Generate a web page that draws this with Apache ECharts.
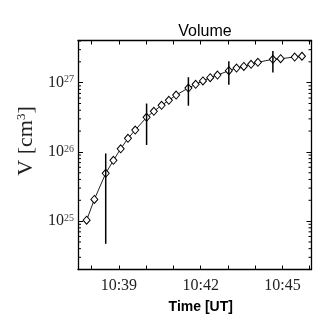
<!DOCTYPE html>
<html>
<head>
<meta charset="utf-8">
<script src="https://cdn.jsdelivr.net/npm/echarts@6/dist/echarts.min.js"></script>
<style>
  html, body { margin: 0; padding: 0; background: #ffffff; }
  #chart { width: 325px; height: 325px; }
</style>
</head>
<body>
<div id="chart"></div>
<script>
// Observation times (UT) and the estimated volume at each time, in cm^3
const times = [
  '10:37:49', '10:38:06', '10:38:31', '10:38:48', '10:39:04', '10:39:20',
  '10:39:36', '10:40:01', '10:40:17', '10:40:34', '10:40:50', '10:41:06',
  '10:41:33', '10:41:49', '10:42:05', '10:42:21', '10:42:37', '10:43:02',
  '10:43:19', '10:43:35', '10:43:51', '10:44:06', '10:44:39', '10:44:56',
  '10:45:27', '10:45:43'
];
const volume = [
  1.03e25, 2.06e25, 4.9e25, 7.55e25, 1.11e26, 1.57e26,
  2.07e26, 3.16e26, 3.86e26, 4.71e26, 5.56e26, 6.63e26,
  8.38e26, 9.47e26, 1.06e27, 1.18e27, 1.29e27, 1.49e27,
  1.63e27, 1.72e27, 1.84e27, 1.97e27, 2.18e27, 2.22e27,
  2.35e27, 2.41e27
];

// Uncertainty ranges shown at selected times
const errTimes = ['10:38:31', '10:40:01', '10:41:33', '10:43:02', '10:44:39'];
const errLow   = [4.7e24, 1.26e26, 4.65e26, 9.35e26, 1.40e27];
const errHigh  = [9.5e25, 5.0e26, 1.20e27, 2.04e27, 2.87e27];

// Axis ranges and labelled ticks
const timeRange = ['10:37:30', '10:46:04'];
const volumeRange = [2.0e24, 4.07e27];
const labelledMinutes = ['10:39', '10:42', '10:45'];
const minorMultipliers = [2, 3, 4, 5, 6, 7, 8, 9];
const decades = [24, 25, 26, 27];

const toMs = (t) => {
  const p = t.split(':').map(Number);
  return Date.UTC(2000, 0, 1, p[0], p[1], p[2] || 0);
};
const pad = (n) => (n < 10 ? '0' : '') + n;
const labelSet = new Set(labelledMinutes);

const xMin = toMs(timeRange[0]);
const xMax = toMs(timeRange[1]);

const minorTicks = [];
decades.forEach((d) => minorMultipliers.forEach((m) => {
  const v = m * Math.pow(10, d);
  if (v > volumeRange[0] && v < volumeRange[1]) minorTicks.push(v);
}));

const serif = '"Liberation Serif", "DejaVu Serif", serif';
const sans = '"Liberation Sans", Arial, sans-serif';

const timeLabel = (value) => {
  const d = new Date(value);
  if (d.getUTCSeconds() !== 0 || d.getUTCMilliseconds() !== 0) return '';
  const s = d.getUTCHours() + ':' + pad(d.getUTCMinutes());
  return labelSet.has(s) ? s : '';
};
const powLabel = (value) => {
  const e = Math.log10(value);
  const r = Math.round(e);
  if (Math.abs(e - r) > 1e-6) return '';
  return '{b|10}{s|' + r + '}';
};

const chart = echarts.init(document.getElementById('chart'), null, { renderer: 'canvas' });

const baseX = {
  type: 'time',
  min: xMin,
  max: xMax,
  minInterval: 60000,
  maxInterval: 60000,
  axisLine: { show: true, onZero: false, lineStyle: { color: '#000', width: 1.3 } },
  axisTick: { show: true, inside: true, length: 4, lineStyle: { color: '#000', width: 1 } },
  splitLine: { show: false },
  minorTick: { show: false }
};
const baseY = {
  type: 'log',
  logBase: 10,
  min: volumeRange[0],
  max: volumeRange[1],
  splitNumber: 3,
  axisLine: { show: true, onZero: false, lineStyle: { color: '#000', width: 1.3 } },
  axisTick: { show: true, inside: true, length: 5, lineStyle: { color: '#000', width: 1 } },
  splitLine: { show: false }
};

chart.setOption({
  useUTC: true,
  animation: false,
  backgroundColor: '#ffffff',
  title: {
    text: 'Volume',
    left: 200,
    top: 19,
    textAlign: 'center',
    textStyle: { fontFamily: sans, fontSize: 16, fontWeight: 'normal', color: '#000' }
  },
  grid: { left: 78, right: 13.5, top: 40.5, bottom: 55.5, containLabel: false },
  xAxis: [
    Object.assign({}, baseX, {
      position: 'bottom',
      name: 'Time [UT]',
      nameLocation: 'middle',
      nameGap: 31,
      nameTextStyle: { fontFamily: sans, fontSize: 14, fontWeight: 'bold', color: '#000',
                       padding: [0, 0, 0, 12] },
      axisLabel: {
        show: true, margin: 8, formatter: timeLabel,
        fontFamily: serif, fontSize: 16, color: '#222',
        showMinLabel: false, showMaxLabel: false, hideOverlap: false
      }
    }),
    Object.assign({}, baseX, { position: 'top', axisLabel: { show: false } })
  ],
  yAxis: [
    Object.assign({}, baseY, {
      position: 'left',
      name: '{n|V [cm}{s|3}{n|]}',
      nameLocation: 'middle',
      nameGap: 38,
      nameRotate: 90,
      nameTextStyle: {
        padding: [0, 0, 0, 28],
        rich: {
          n: { fontFamily: serif, fontSize: 22, color: '#222' },
          s: { fontFamily: serif, fontSize: 13, color: '#222', verticalAlign: 'top' }
        }
      },
      axisLabel: {
        show: true, margin: 4, formatter: powLabel,
        showMinLabel: false, showMaxLabel: false,
        rich: {
          b: { fontFamily: serif, fontSize: 16, color: '#222' },
          s: { fontFamily: serif, fontSize: 10, color: '#444', verticalAlign: 'top' }
        }
      }
    }),
    Object.assign({}, baseY, { position: 'right', axisLabel: { show: false } })
  ],
  series: [
    {
      // Minor decade ticks on both vertical axes
      type: 'custom',
      xAxisIndex: 0,
      yAxisIndex: 0,
      silent: true,
      z: 1,
      data: minorTicks,
      renderItem: (params, api) => {
        const cs = params.coordSys;
        const y = api.coord([xMin, api.value(0)])[1];
        const style = { stroke: '#000', lineWidth: 1 };
        return {
          type: 'group',
          children: [
            { type: 'line', shape: { x1: cs.x, y1: y, x2: cs.x + 3, y2: y }, style },
            { type: 'line', shape: { x1: cs.x + cs.width - 3, y1: y, x2: cs.x + cs.width, y2: y }, style }
          ]
        };
      },
      encode: { y: 0 }
    },
    {
      type: 'line',
      xAxisIndex: 0,
      yAxisIndex: 0,
      data: times.map((t, i) => [toMs(t), volume[i]]),
      symbol: 'diamond',
      symbolSize: [7, 8],
      showAllSymbol: true,
      lineStyle: { color: '#222', width: 1 },
      itemStyle: { color: '#fff', borderColor: '#000', borderWidth: 1 },
      z: 2
    },
    {
      // Vertical uncertainty bars
      type: 'custom',
      xAxisIndex: 0,
      yAxisIndex: 0,
      z: 3,
      data: errTimes.map((t, i) => [toMs(t), errLow[i], errHigh[i]]),
      encode: { x: 0, y: [1, 2] },
      renderItem: (params, api) => {
        const lo = api.coord([api.value(0), api.value(1)]);
        const hi = api.coord([api.value(0), api.value(2)]);
        return {
          type: 'line',
          shape: { x1: lo[0], y1: lo[1], x2: hi[0], y2: hi[1] },
          style: { stroke: '#000', lineWidth: 1.5 }
        };
      }
    }
  ]
});
</script>
</body>
</html>
